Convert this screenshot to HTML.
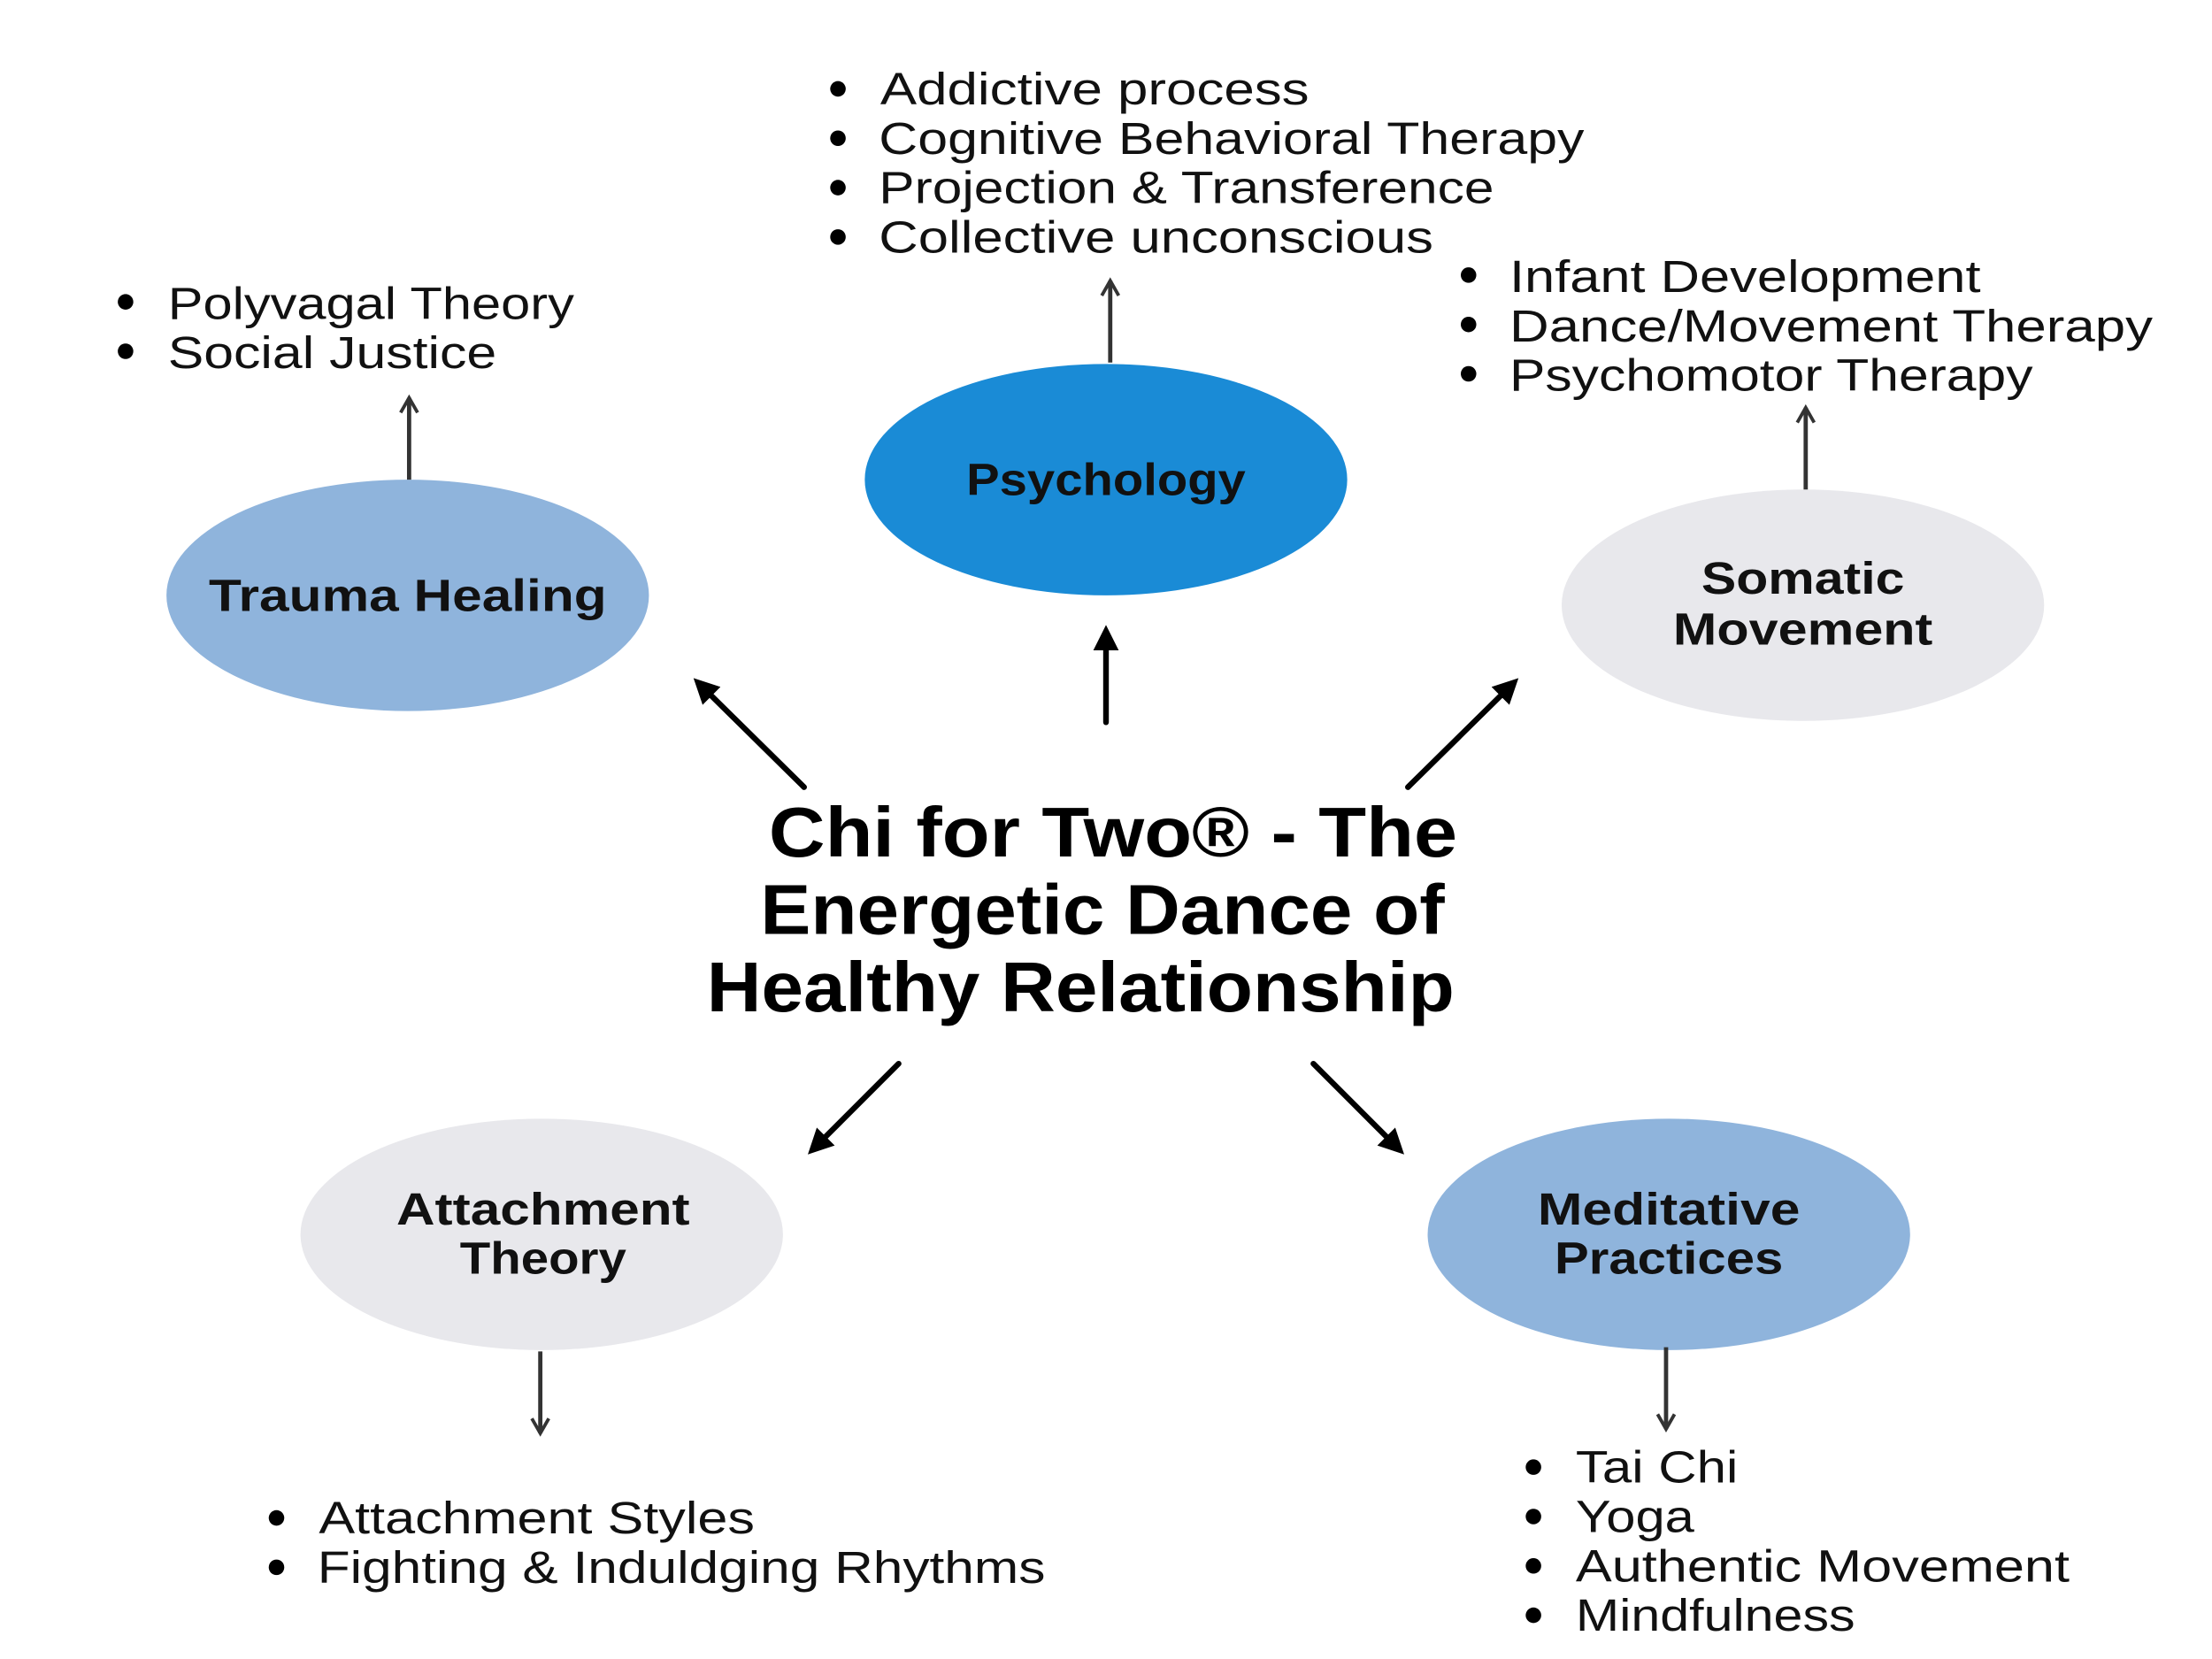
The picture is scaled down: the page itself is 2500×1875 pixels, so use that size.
<!DOCTYPE html>
<html><head><meta charset="utf-8"><style>
html,body{margin:0;padding:0;background:#fff;overflow:hidden;}
svg{display:block;}
.b{font-family:"Liberation Sans",sans-serif;font-weight:bold;font-size:32px;fill:#111;}
.l{font-family:"Liberation Sans",sans-serif;font-size:32px;fill:#111;}
.t{font-family:"Liberation Sans",sans-serif;font-weight:bold;font-size:50px;fill:#000;}
</style></head><body>
<svg width="2500" height="1875" viewBox="0 0 1568 1176" preserveAspectRatio="none" xmlns="http://www.w3.org/2000/svg">
<defs>
<marker id="h" viewBox="0 0 10 10" refX="5" refY="5" markerWidth="4.5" markerHeight="4.5" orient="auto-start-reverse"><path d="M0,0 L10,5 L0,10 z" fill="#000"/></marker>
<marker id="g" viewBox="0 0 10 10" refX="8" refY="5" markerWidth="5" markerHeight="5" orient="auto"><path d="M1,1 L8,5 L1,9" fill="none" stroke="#333" stroke-width="1.6"/></marker>
</defs>
<ellipse cx="289" cy="422" rx="171" ry="82" fill="#8fb4dc"/>
<ellipse cx="784" cy="340" rx="171" ry="82" fill="#1a8bd6"/>
<ellipse cx="1278" cy="429" rx="171" ry="82" fill="#e8e8ec"/>
<ellipse cx="384" cy="875" rx="171" ry="82" fill="#e8e8ec"/>
<ellipse cx="1183" cy="875" rx="171" ry="82" fill="#8fb4dc"/>
<text class="b" x="289" y="433" text-anchor="middle" textLength="282" lengthAdjust="spacingAndGlyphs">Trauma Healing</text>
<text class="b" x="784" y="351" text-anchor="middle" textLength="198" lengthAdjust="spacingAndGlyphs">Psychology</text>
<text class="b" x="1278" y="421" text-anchor="middle" textLength="144" lengthAdjust="spacingAndGlyphs">Somatic</text>
<text class="b" x="1278" y="457" text-anchor="middle" textLength="184" lengthAdjust="spacingAndGlyphs">Movement</text>
<text class="b" x="385" y="868" text-anchor="middle" textLength="208" lengthAdjust="spacingAndGlyphs">Attachment</text>
<text class="b" x="385" y="903" text-anchor="middle" textLength="118" lengthAdjust="spacingAndGlyphs">Theory</text>
<text class="b" x="1183" y="868" text-anchor="middle" textLength="186" lengthAdjust="spacingAndGlyphs">Meditative</text>
<text class="b" x="1183" y="903" text-anchor="middle" textLength="162" lengthAdjust="spacingAndGlyphs">Practices</text>
<text class="t" x="545" y="607" textLength="488" lengthAdjust="spacingAndGlyphs">Chi for Two® - The</text>
<text class="t" x="539" y="662" textLength="485" lengthAdjust="spacingAndGlyphs">Energetic Dance of</text>
<text class="t" x="501" y="717" textLength="530" lengthAdjust="spacingAndGlyphs">Healthy Relationship</text>
<g stroke="#000" stroke-width="4" stroke-linecap="round" fill="none">
<line x1="784" y1="512" x2="784" y2="452" marker-end="url(#h)"/>
<line x1="570" y1="558" x2="498" y2="487" marker-end="url(#h)"/>
<line x1="998" y1="558" x2="1070" y2="487" marker-end="url(#h)"/>
<line x1="637" y1="754" x2="579" y2="812" marker-end="url(#h)"/>
<line x1="931" y1="754" x2="989" y2="812" marker-end="url(#h)"/>
</g>
<g stroke="#333" stroke-width="3" fill="none">
<line x1="290" y1="340" x2="290" y2="282" marker-end="url(#g)"/>
<line x1="787" y1="257" x2="787" y2="199" marker-end="url(#g)"/>
<line x1="1280" y1="347" x2="1280" y2="289" marker-end="url(#g)"/>
<line x1="383" y1="958" x2="383" y2="1016" marker-end="url(#g)"/>
<line x1="1181" y1="955" x2="1181" y2="1013" marker-end="url(#g)"/>
</g>
<g fill="#000">
<circle cx="594" cy="63" r="5.5"/><circle cx="594" cy="98" r="5.5"/><circle cx="594" cy="133" r="5.5"/><circle cx="594" cy="168" r="5.5"/>
<circle cx="89" cy="214" r="5.5"/><circle cx="89" cy="249" r="5.5"/>
<circle cx="1041" cy="195" r="5.5"/><circle cx="1041" cy="230" r="5.5"/><circle cx="1041" cy="265" r="5.5"/>
<circle cx="196" cy="1076" r="5.5"/><circle cx="196" cy="1111" r="5.5"/>
<circle cx="1087" cy="1040" r="5.5"/><circle cx="1087" cy="1075" r="5.5"/><circle cx="1087" cy="1110" r="5.5"/><circle cx="1087" cy="1145" r="5.5"/>
</g>
<text class="l" x="624" y="74" textLength="304" lengthAdjust="spacingAndGlyphs">Addictive process</text>
<text class="l" x="623" y="109" textLength="500" lengthAdjust="spacingAndGlyphs">Cognitive Behavioral Therapy</text>
<text class="l" x="623" y="144" textLength="436" lengthAdjust="spacingAndGlyphs">Projection &amp; Transference</text>
<text class="l" x="623" y="179" textLength="393" lengthAdjust="spacingAndGlyphs">Collective unconscious</text>
<text class="l" x="119" y="226" textLength="288" lengthAdjust="spacingAndGlyphs">Polyvagal Theory</text>
<text class="l" x="119" y="261" textLength="233" lengthAdjust="spacingAndGlyphs">Social Justice</text>
<text class="l" x="1070" y="207" textLength="334" lengthAdjust="spacingAndGlyphs">Infant Development</text>
<text class="l" x="1070" y="242" textLength="456" lengthAdjust="spacingAndGlyphs">Dance/Movement Therapy</text>
<text class="l" x="1070" y="277" textLength="371" lengthAdjust="spacingAndGlyphs">Psychomotor Therapy</text>
<text class="l" x="226" y="1087" textLength="309" lengthAdjust="spacingAndGlyphs">Attachment Styles</text>
<text class="l" x="225" y="1122" textLength="516" lengthAdjust="spacingAndGlyphs">Fighting &amp; Induldging Rhythms</text>
<text class="l" x="1117" y="1051" textLength="115" lengthAdjust="spacingAndGlyphs">Tai Chi</text>
<text class="l" x="1117" y="1086" textLength="84" lengthAdjust="spacingAndGlyphs">Yoga</text>
<text class="l" x="1117" y="1121" textLength="350" lengthAdjust="spacingAndGlyphs">Authentic Movement</text>
<text class="l" x="1117" y="1156" textLength="198" lengthAdjust="spacingAndGlyphs">Mindfulness</text>
</svg>
</body></html>
